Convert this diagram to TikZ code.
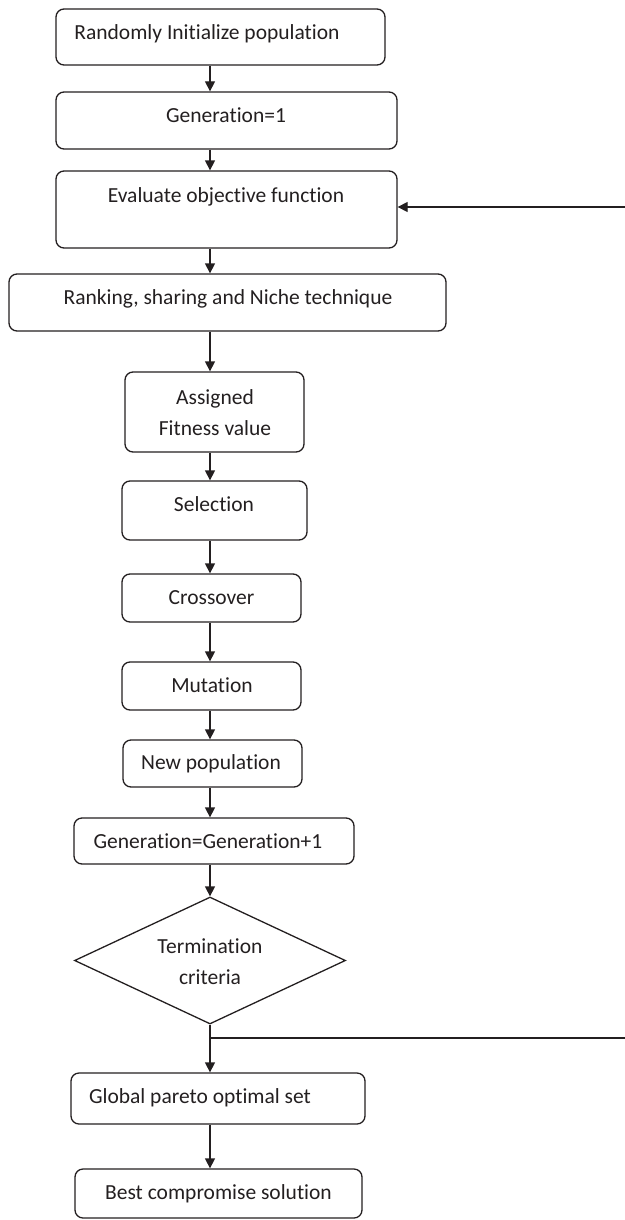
\documentclass[tikz,border=0pt]{standalone}
\usepackage{fontspec}
\setmainfont{Carlito}[Ligatures={NoCommon,NoRare,NoContextual}]
\usetikzlibrary{shapes.geometric,arrows.meta}
\definecolor{ink}{HTML}{231F20}
\newcommand\Ti{t\kern0pt i}
\begin{document}
\begin{tikzpicture}[x=1pt,y=-1pt,
  box/.style={draw=ink,line width=1.3pt,rounded corners=8pt,inner sep=0pt},
  dia/.style={draw=ink,line width=1.3pt,shape=diamond,inner sep=0pt},
  txt/.style={anchor=base,inner sep=0pt,text=ink,font=\fontsize{21.5}{26}\selectfont},
  arr/.style={draw=ink,line width=1.3pt,-{Triangle[length=10pt,width=10pt]}},
  ln/.style={draw=ink,line width=1.3pt}]
\useasboundingbox (0,0) rectangle (624,1220);
\coordinate (ax) at (210,0);
% boxes
\node[box,minimum width=329pt,minimum height=56pt] (b1) at (220.5,37) {};
\node[box,minimum width=341pt,minimum height=57pt] (b2) at (226.5,120.5) {};
\node[box,minimum width=341pt,minimum height=77pt] (b3) at (226.5,209.5) {};
\node[box,minimum width=437pt,minimum height=57pt] (b4) at (227.5,302.5) {};
\node[box,minimum width=179pt,minimum height=80pt] (b5) at (214.5,412) {};
\node[box,minimum width=185pt,minimum height=59pt] (b6) at (214.5,510.5) {};
\node[box,minimum width=179pt,minimum height=48pt] (b7) at (211.5,598) {};
\node[box,minimum width=179pt,minimum height=48pt] (b8) at (211.5,686) {};
\node[box,minimum width=179pt,minimum height=47pt] (b9) at (212.5,763.5) {};
\node[box,minimum width=280pt,minimum height=46pt] (b10) at (214,841) {};
\node[dia,minimum width=271pt,minimum height=127pt] (d) at (210,960.5) {};
\node[box,minimum width=294pt,minimum height=51pt] (b11) at (218,1098.5) {};
\node[box,minimum width=287pt,minimum height=49pt] (b12) at (218.5,1193.5) {};
% texts
\node[txt] (t1) at (207,39.5) {Randomly Initialize population};
\node[txt] (t2) at (226,123) {Genera\Ti on=1};
\node[txt] (t3) at (226,202) {Evaluate objec\Ti ve func\Ti on};
\node[txt] (t4) at (228,304) {Ranking, sharing and Niche technique};
\node[txt] (t5a) at (215,404) {Assigned};
\node[txt] (t5b) at (215,435) {Fitness value};
\node[txt] (t6) at (214,511.5) {Selec\Ti on};
\node[txt] (t7) at (211.5,604) {Crossover};
\node[txt] (t8) at (212,692) {Muta\Ti on};
\node[txt] (t9) at (211,769.5) {New popula\Ti on};
\node[txt] (t10) at (208,848) {Genera\Ti on=Genera\Ti on+1};
\node[txt] (t11a) at (210,953) {Termina\Ti on};
\node[txt] (t11b) at (210,984) {criteria};
\node[txt] (t12) at (200,1103) {Global pareto op\Ti mal set};
\node[txt] (t13) at (218.5,1199) {Best compromise solu\Ti on};
% connectors
\draw[arr] (b1.south -| ax) -- (b2.north -| ax);
\draw[arr] (b2.south -| ax) -- (b3.north -| ax);
\draw[arr] (b3.south -| ax) -- (b4.north -| ax);
\draw[arr] (b4.south -| ax) -- (b5.north -| ax);
\draw[arr] (b5.south -| ax) -- (b6.north -| ax);
\draw[arr] (b6.south -| ax) -- (b7.north -| ax);
\draw[arr] (b7.south -| ax) -- (b8.north -| ax);
\draw[arr] (b8.south -| ax) -- (b9.north -| ax);
\draw[arr] (b9.south -| ax) -- (b10.north -| ax);
\draw[arr] (b10.south -| ax) -- (d.north);
\coordinate (br) at (d.south |- 0,1038);
\coordinate (lp) at (632,1038);
\draw[arr] (d.south) -- (b11.north -| ax);
\draw[arr] (b11.south -| ax) -- (b12.north -| ax);
\draw[arr] (br) -- (lp) -- (lp |- 0,207) -- (b3.east |- 0,207);
\end{tikzpicture}
\end{document}
